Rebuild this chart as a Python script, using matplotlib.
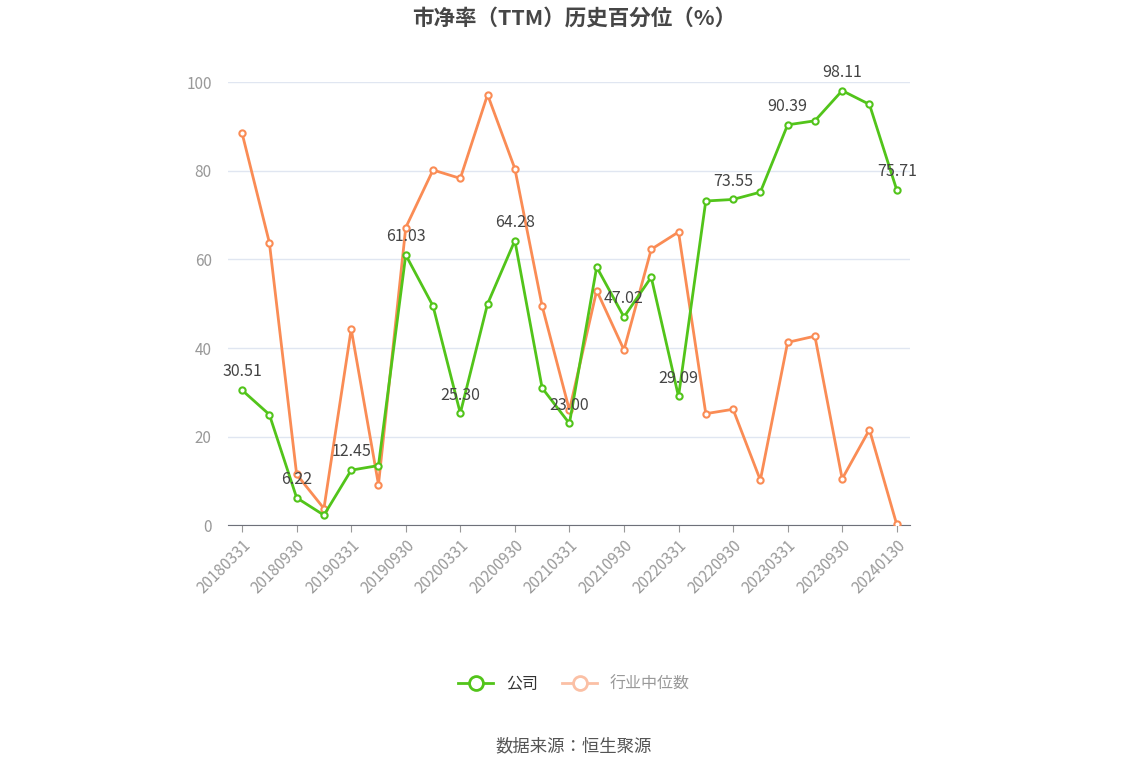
import matplotlib
matplotlib.use("Agg")
from matplotlib import pyplot as plt
from matplotlib import font_manager
from matplotlib.lines import Line2D

# pick whatever CJK family is registered
cjk_names = sorted({f.name for f in font_manager.fontManager.ttflist if "CJK" in f.name})
preferred = [n for n in cjk_names if "SC" in n] or cjk_names
plt.rcParams["font.family"] = preferred[:1] + ["DejaVu Sans"]

dates = ["20180331", "20180630", "20180930", "20181231", "20190331", "20190630",
         "20190930", "20191231", "20200331", "20200630", "20200930", "20201231",
         "20210331", "20210630", "20210930", "20211231", "20220331", "20220630",
         "20220930", "20221231", "20230331", "20230630", "20230930", "20231231",
         "20240130"]
company = [30.51, 25.0, 6.22, 2.3, 12.45, 13.5, 61.03, 49.5, 25.30, 50.0, 64.28, 31.0,
           23.00, 58.3, 47.02, 56.0, 29.09, 73.2, 73.55, 75.2, 90.39, 91.3, 98.11, 95.0,
           75.71]
industry = [88.5, 63.8, 11.5, 3.8, 44.3, 9.2, 67.2, 80.2, 78.3, 97.2, 80.5, 49.5,
            26.0, 53.0, 39.6, 62.3, 66.2, 25.2, 26.2, 10.2, 41.3, 42.7, 10.5, 21.6, 0.2]

green = "#52c41a"
orange = "#fa8c55"

fig = plt.figure(figsize=(11.48, 7.76), dpi=100)
ax = fig.add_axes([0.199, 0.323, 0.594, 0.571])
x = list(range(len(dates)))

ax.plot(x, industry, color=orange, linewidth=2, marker="o", markersize=4.5,
        markerfacecolor="white", markeredgewidth=1.5, zorder=3)
ax.plot(x, company, color=green, linewidth=2, marker="o", markersize=4.5,
        markerfacecolor="white", markeredgewidth=1.5, zorder=4)

for i in range(0, len(dates), 2):
    ax.annotate(f"{company[i]:.2f}", (i, company[i]), xytext=(0, 7),
                textcoords="offset points", ha="center", va="bottom",
                fontsize=11.5, color="#444444", zorder=5)

ax.set_xlim(-0.5, len(dates) - 0.5)
ax.set_ylim(0, 100)
ax.set_yticks(range(0, 101, 20))
ax.set_xticks(x[::2])
ax.set_xticklabels(dates[::2], rotation=45, ha="right", rotation_mode="anchor")
ax.tick_params(axis="x", colors="#999999", labelsize=11, length=5)
ax.tick_params(axis="y", colors="#999999", labelsize=11, length=0, pad=12)
ax.grid(axis="y", color="#e0e6f1", linewidth=1)
ax.set_axisbelow(True)
for s in ["top", "right", "left"]:
    ax.spines[s].set_visible(False)
ax.spines["bottom"].set_color("#6e7079")

fig.suptitle("市净率（TTM）历史百分位（%）", y=0.99, fontsize=15.5,
             fontweight="bold", color="#464646")

handles = [
    Line2D([], [], color=green, linewidth=2, marker="o", markersize=10,
           markerfacecolor="white", markeredgewidth=2),
    Line2D([], [], color="#fbc0a5", linewidth=2, marker="o", markersize=10,
           markerfacecolor="white", markeredgewidth=2),
]
leg = fig.legend(handles, ["公司", "行业中位数"], loc="center", bbox_to_anchor=(0.5, 0.118),
                 ncol=2, frameon=False, fontsize=11.5, handlelength=2.2, columnspacing=1.5)
leg.get_texts()[0].set_color("#333333")
leg.get_texts()[1].set_color("#999999")

fig.text(0.5, 0.032, "数据来源：恒生聚源", ha="center", fontsize=12.5, color="#555555")

fig.savefig("out.png", dpi=100)
plt.close(fig)
